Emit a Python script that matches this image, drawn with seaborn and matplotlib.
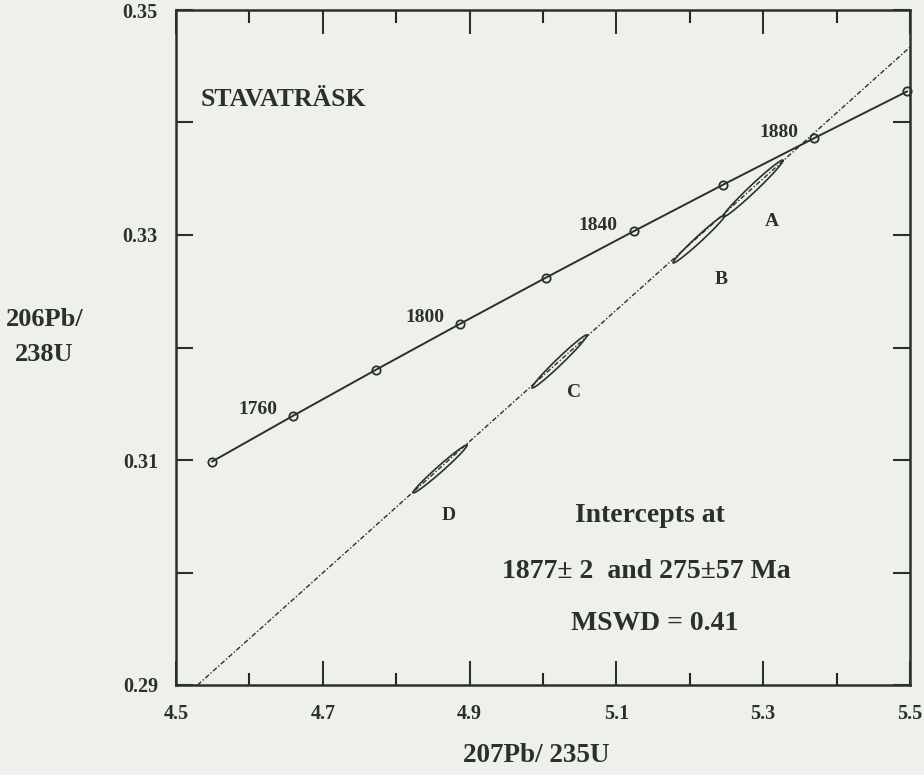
import numpy as np
import pandas as pd
import matplotlib
matplotlib.use("Agg")
import matplotlib.pyplot as plt
import seaborn as sns

# ---------------- data ----------------
# concordia points (age in Ma, 207Pb/235U, 206Pb/238U)
conc_age = [1740, 1760, 1780, 1800, 1820, 1840, 1860, 1880, 1900]
conc_x = [4.5491, 4.6595, 4.7721, 4.8869, 5.0040, 5.1235, 5.2453, 5.3695, 5.4962]
conc_y = [0.30986, 0.31393, 0.31801, 0.32210, 0.32621, 0.33033, 0.33447, 0.33861, 0.34277]
labelled_ages = [1760, 1800, 1840, 1880]

# discordia through lower (275 Ma) and upper (1877 Ma) intercepts
disc_x = [0.31106, 5.3509]
disc_y = [0.04358, 0.33799]

# analysed fractions (error ellipses)
frac_names = ["A", "B", "C", "D"]
frac_x = [5.2861, 5.2125, 5.0225, 4.8597]
frac_y = [0.33413, 0.32964, 0.31876, 0.30920]
frac_ex = [0.0409, 0.0354, 0.0375, 0.0368]
frac_ey = [0.00253, 0.00213, 0.00236, 0.00213]
frac_rho = [0.985, 0.985, 0.985, 0.985]

title_text = "STAVATRÄSK"
result_lines = ["Intercepts at", "1877± 2  and 275±57 Ma", "MSWD = 0.41"]

x_major = [4.5, 4.7, 4.9, 5.1, 5.3, 5.5]
x_minor = [4.6, 4.8, 5.0, 5.2, 5.4]
y_major = [0.29, 0.31, 0.33, 0.35]
y_minor = [0.30, 0.32, 0.34]

# ---------------- style ----------------
sns.set_theme(style="ticks")
plt.rcParams["font.family"] = ["Liberation Serif", "DejaVu Serif"]
plt.rcParams["font.weight"] = "bold"

BG = "#eef1eb"
INK = "#2b302b"

fig = plt.figure(figsize=(9.24, 7.75), dpi=100, facecolor=BG)
ax = fig.add_axes([176 / 924, 1 - 685 / 775, 734 / 924, 675 / 775])
ax.set_facecolor(BG)

conc = pd.DataFrame({"age": conc_age, "x": conc_x, "y": conc_y})

# concordia curve
sns.lineplot(data=conc, x="x", y="y", ax=ax, color=INK, lw=1.4, sort=False,
             marker="o", markersize=6, markerfacecolor="none",
             markeredgecolor=INK, markeredgewidth=1.3, zorder=3, clip_on=False)

# discordia
ax.axline((disc_x[0], disc_y[0]), (disc_x[1], disc_y[1]), color=INK, lw=1.0,
          ls=(0, (3.5, 1.5, 1, 1.5)), zorder=2)

# ellipses
t = np.linspace(0, 2 * np.pi, 200)
for cx, cy, ex, ey, r in zip(frac_x, frac_y, frac_ex, frac_ey, frac_rho):
    ex_ = cx + ex * np.cos(t)
    ey_ = cy + ey * (r * np.cos(t) + np.sqrt(1 - r * r) * np.sin(t))
    ax.plot(ex_, ey_, color=INK, lw=1.2, zorder=4)

# age labels
for a, x, y in zip(conc_age, conc_x, conc_y):
    if a in labelled_ages:
        ax.annotate(str(a), (x, y), xytext=(-16, 6), textcoords="offset pixels",
                    ha="right", va="center", fontsize=14, fontweight="bold",
                    color=INK)

# fraction labels
lab_pos = {"A": (5.3120, 0.33116), "B": (5.2425, 0.32600),
           "C": (5.0422, 0.31596), "D": (4.8719, 0.30511)}
for n in frac_names:
    ax.text(*lab_pos[n], n, ha="center", va="center", fontsize=14,
            fontweight="bold", color=INK)

ax.text(4.6458, 0.34200, title_text, ha="center", va="center", fontsize=18.5,
        fontweight="bold", color=INK)
ax.text(5.1458, 0.30511, result_lines[0], ha="center", va="center",
        fontsize=20, fontweight="bold", color=INK)
ax.text(5.1403, 0.30013, result_lines[1], ha="center", va="center",
        fontsize=20, fontweight="bold", color=INK)
ax.text(5.1526, 0.29551, result_lines[2], ha="center", va="center",
        fontsize=20, fontweight="bold", color=INK)

# axes
ax.set_xlim(4.5, 5.5)
ax.set_ylim(0.29, 0.35)
ax.set_xticks(x_major)
ax.set_xticks(x_minor, minor=True)
ax.set_yticks(y_major)
ax.set_yticks(y_minor, minor=True)
ax.set_xticklabels([f"{v:.1f}" for v in x_major])
ax.set_yticklabels([f"{v:.2f}" for v in y_major])
ax.tick_params(axis="x", which="major", direction="in", length=17, width=1.5,
               top=True, bottom=True, pad=14, labelsize=14.5, colors=INK)
ax.tick_params(axis="x", which="minor", direction="in", length=9, width=1.5,
               top=True, bottom=True)
ax.tick_params(axis="y", which="both", direction="in", length=12, width=1.5,
               left=True, right=True, pad=13, labelsize=14.5, colors=INK)
for lab in ax.get_xticklabels() + ax.get_yticklabels():
    lab.set_fontweight("bold")
for s in ax.spines.values():
    s.set_linewidth(1.8)
    s.set_color(INK)

ax.set_xlabel("207Pb/ 235U", fontsize=19.5, fontweight="bold", color=INK,
              va="center")
ax.xaxis.set_label_coords(0.4905, -0.104)
ax.set_ylabel("206Pb/\n238U", fontsize=19, fontweight="bold", color=INK,
              rotation=0, ha="center", va="center", linespacing=1.7)
ax.yaxis.set_label_coords(-0.179, 0.5156)

fig.savefig("out.png", dpi=100, facecolor=BG)
